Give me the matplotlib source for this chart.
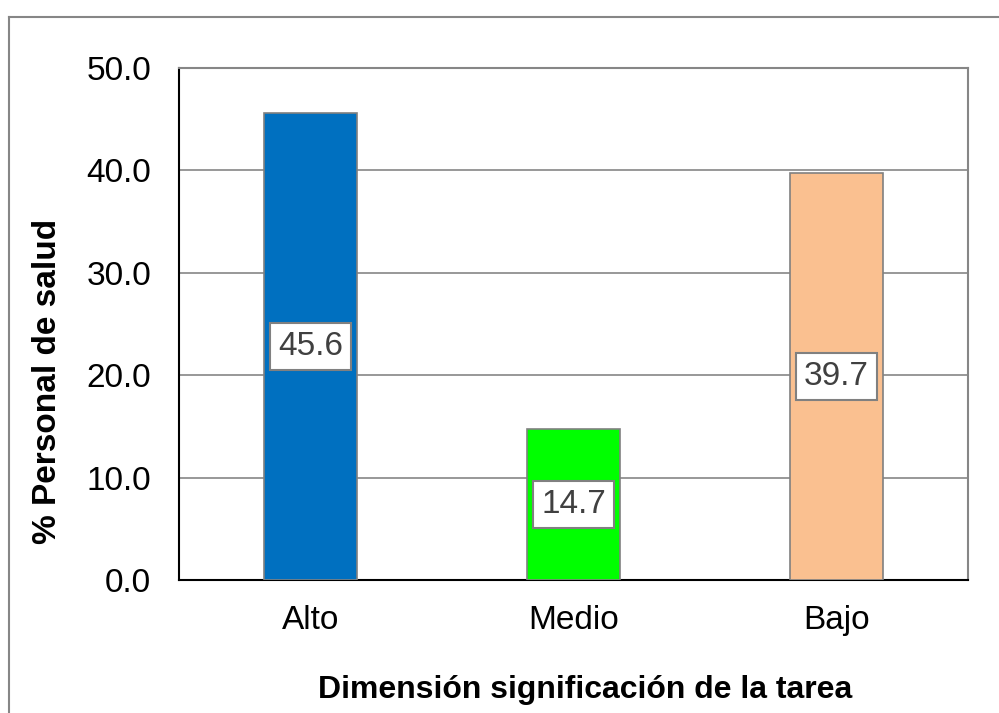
import matplotlib
matplotlib.use("Agg")
import matplotlib.pyplot as plt
from matplotlib.lines import Line2D

plt.rcParams['font.family'] = ['Liberation Sans', 'DejaVu Sans']

categories = ["Alto", "Medio", "Bajo"]
values = [45.6, 14.7, 39.7]
colors = ["#0070C0", "#00FF00", "#FAC090"]
yticks = [0, 10, 20, 30, 40, 50]

W, H = 999, 713
fig = plt.figure(figsize=(W / 100, H / 100), dpi=100)
ax = fig.add_axes([179 / W, 1 - 580 / H, 789 / W, 512 / H])

x = range(len(categories))
ax.bar(x, values, width=0.35, color=colors, edgecolor="#808080", linewidth=1.2, zorder=3)

for xi, v in zip(x, values):
    ax.text(xi, v / 2, f"{v:.1f}", ha="center", va="center", fontsize=24,
            color="#404040", zorder=4,
            bbox=dict(boxstyle="square,pad=0.24", facecolor="white",
                      edgecolor="#808080", linewidth=1.5))

ax.set_xlim(-0.5, len(categories) - 0.5)
ax.set_ylim(0, 50)
ax.set_yticks(yticks)
ax.set_yticklabels([f"{t:.1f}" for t in yticks], fontsize=24)
ax.set_xticks(list(x))
ax.set_xticklabels(categories, fontsize=24)
ax.tick_params(axis="y", length=0, pad=20)
ax.tick_params(axis="x", length=0, pad=18)

ax.yaxis.grid(True, color="#868686", linewidth=1.2, zorder=0)
ax.set_axisbelow(True)
for side in ("top", "right"):
    ax.spines[side].set_color("#868686")
    ax.spines[side].set_linewidth(1.5)
for side in ("left", "bottom"):
    ax.spines[side].set_color("black")
    ax.spines[side].set_linewidth(1.5)

fig.text(48 / W, 1 - 381 / H, "% Personal de salud", rotation=90,
         ha="center", va="center", fontsize=24, fontweight="bold")
fig.text(585 / W, 1 - 690 / H, "Dimensión significación de la tarea",
         ha="center", va="center", fontsize=23, fontweight="bold")

# outer chart frame
fx, fy = 8.5 / W, 1 - 16.5 / H
fig.add_artist(Line2D([fx, fx], [0, fy], transform=fig.transFigure,
                      color="#868686", linewidth=1.5))
fig.add_artist(Line2D([fx, 1], [fy, fy], transform=fig.transFigure,
                      color="#868686", linewidth=1.5))

fig.savefig("out.png", dpi=100, facecolor="white")
